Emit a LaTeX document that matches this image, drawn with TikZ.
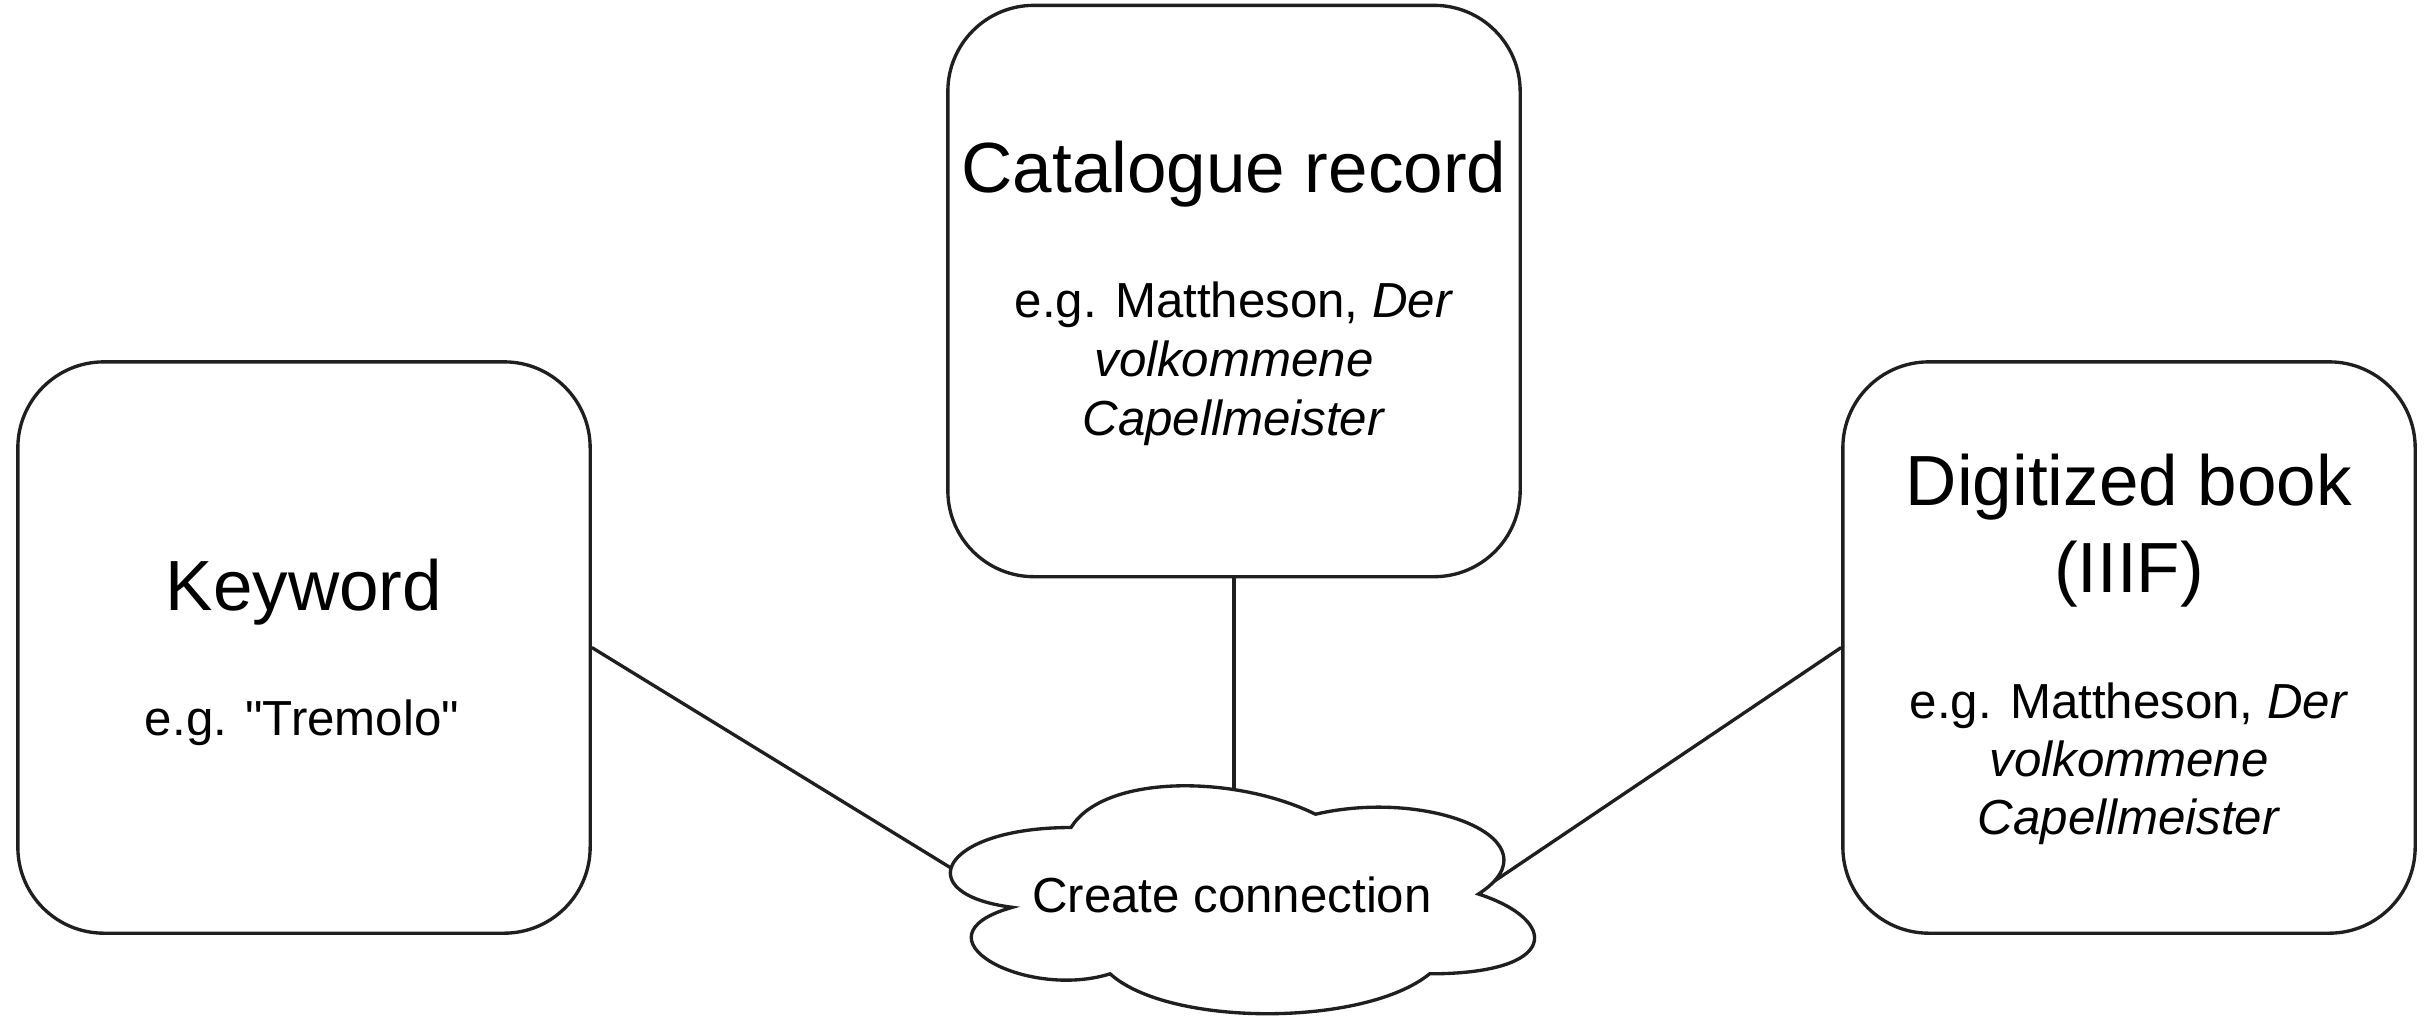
\documentclass[tikz,border=0pt]{standalone}
\usepackage{fontspec}
\setmainfont{Liberation Sans}[Ligatures=TeXOff]
\begin{document}
\begin{tikzpicture}[x=0.01cm,y=-0.01cm,
  box/.style={draw=black!88, line width=0.95pt, rounded corners=0.86cm,
    minimum width=5.72cm, minimum height=5.71cm, inner sep=0pt},
  ttl/.style={anchor=base, inner sep=0pt, font=\fontsize{20.2pt}{24pt}\selectfont},
  bdy/.style={anchor=base, inner sep=0pt, font=\fontsize{14pt}{17pt}\selectfont},
  link/.style={draw=black!88, line width=0.95pt},
  cloudline/.style={draw=black!88, line width=0.95pt, fill=white}]
\useasboundingbox (0,0) rectangle (2430,1035);

% boxes
\node[box] (kw)  at (304,647.5) {};
\node[box] (cat) at (1234,291) {};
\node[box] (dig) at (2129,647.5) {};

% texts
\node[ttl] (kwT) at (304,610) {Keyword};
\node[bdy] (kwB) at (302,735) {e.g. "Tremolo"};

\node[ttl] (catT)  at (1234,192) {Catalogue record};
\node[bdy] (catB1) at (1234,317) {e.g. Mattheson, \textit{Der}};
\node[bdy] (catB2) at (1234,376) {\textit{volkommene}};
\node[bdy] (catB3) at (1234,435) {\textit{Capellmeister}};

\node[ttl] (digT1) at (2129,505) {Digitized book};
\node[ttl] (digT2) at (2129,592) {(IIIF)};
\node[bdy] (digB1) at (2129,718) {e.g. Mattheson, \textit{Der}};
\node[bdy] (digB2) at (2129,776) {\textit{volkommene}};
\node[bdy] (digB3) at (2129,834) {\textit{Capellmeister}};

% cloud connection points
\coordinate (ccL) at (951,868);
\coordinate (ccT) at (1234,789);
\coordinate (ccR) at (1488,885.4);

% connectors
\draw[link] (kw.east) -- (ccL);
\draw[link] (cat.south) -- (ccT);
\draw[link] (dig.west) -- (ccR);

% cloud
\path[cloudline] (1071,827.5)
  .. controls (940.6,827.5) and (908,894) .. (1012.3,907.3)
  .. controls (908,936.6) and (1025.4,1000.4) .. (1110.1,973.8)
  .. controls (1168.8,1027) and (1364.4,1027) .. (1429.6,973.8)
  .. controls (1560,973.8) and (1560,920.6) .. (1478.5,894)
  .. controls (1560,840.8) and (1429.6,787.6) .. (1315.5,814.2)
  .. controls (1234,774.3) and (1103.6,774.3) .. (1071,827.5) -- cycle;
\node[bdy] (cc) at (1232,912) {Create connection};
\end{tikzpicture}
\end{document}
